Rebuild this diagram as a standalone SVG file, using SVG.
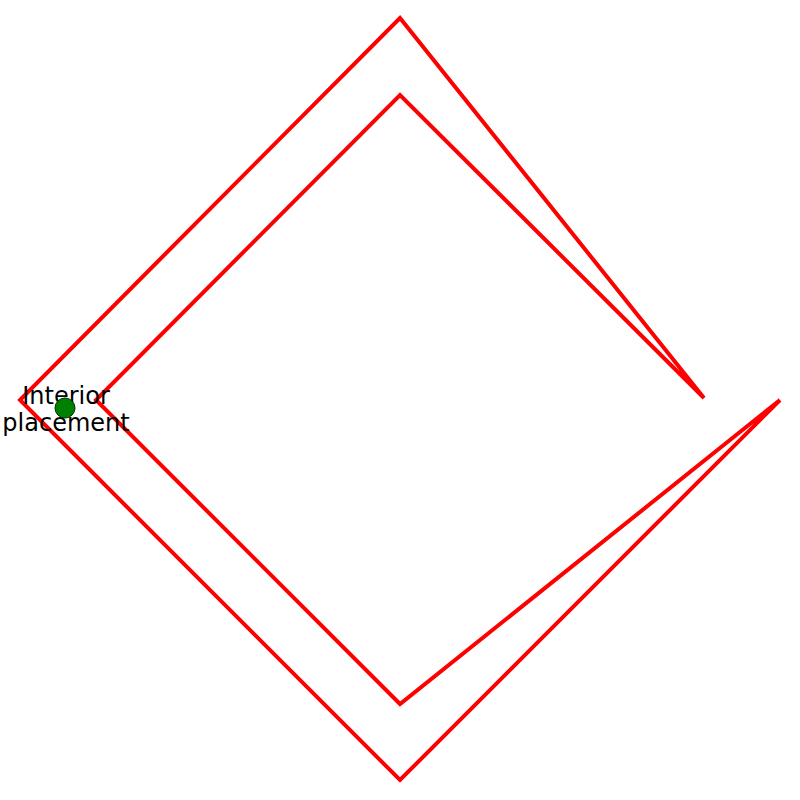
<svg xmlns="http://www.w3.org/2000/svg" width="800" height="800" viewBox="0 0 800 800">
<style>
.shape{fill:none;stroke:#ff0000;stroke-width:4}
.lbl{font-family:"DejaVu Sans",sans-serif;font-size:24px;fill:#000;text-anchor:middle}
</style>
<rect width="800" height="800" fill="#fff"/>
<g id="connectors">
<polyline class="shape" points="780,400 400,780 20,400 400,18 704,398 400,95 96,400 400,704 780,400"/>
</g>
<g id="point">
<text class="lbl" x="66" y="404">Interior</text>
<text class="lbl" x="66" y="431">placement</text>
<circle cx="65" cy="408" r="10" fill="#008000" stroke="#003000" stroke-width="1"/>
</g>
</svg>
